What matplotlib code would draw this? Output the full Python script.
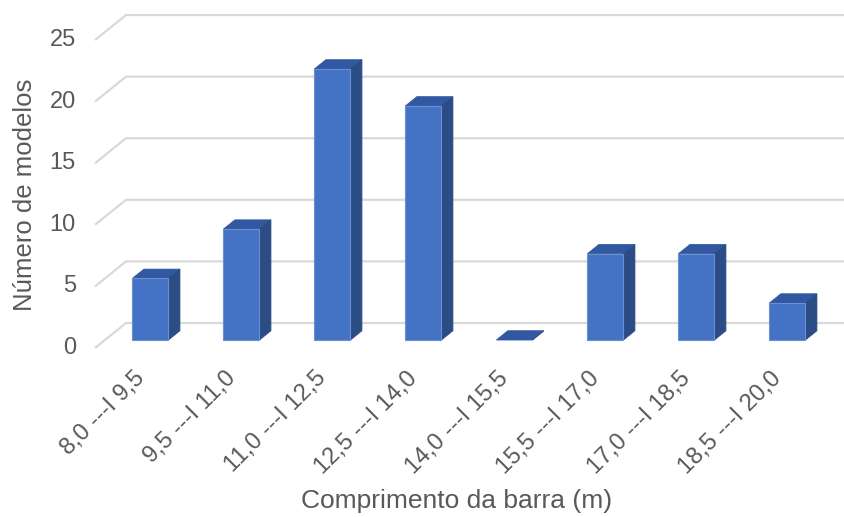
import matplotlib
matplotlib.use("Agg")
import matplotlib.pyplot as plt
from matplotlib.patches import Polygon

plt.rcParams["font.family"] = ["Liberation Sans", "DejaVu Sans"]

# Histogram data
categories = ["8,0 ---I 9,5", "9,5 ---I 11,0", "11,0 ---I 12,5", "12,5 ---I 14,0",
              "14,0 ---I 15,5", "15,5 ---I 17,0", "17,0 ---I 18,5", "18,5 ---I 20,0"]
counts = [5, 9, 22, 19, 0, 7, 7, 3]
y_ticks = [0, 5, 10, 15, 20, 25]
x_title = "Comprimento da barra (m)"
y_title = "Número de modelos"

# Oblique 3D projection parameters (data units)
DEPTH_X = 0.341      # horizontal shift from front plane to back wall (category units)
DEPTH_Y = 2.03       # vertical shift from front plane to back wall (value units)
F_FRONT = 0.32       # depth fraction of bar front face
F_BACK = 0.69        # depth fraction of bar back face
HALF_W = 0.198       # half width of bar front face

FRONT = "#4472C4"
SIDE = "#2C4C86"
TOP = "#3158A0"
EDGE = "#6C8FD2"
GRID = "#D9D9D9"
TEXT = "#595959"

fig = plt.figure(figsize=(8.44, 5.17), dpi=100)
ax = fig.add_axes([0, 0, 1, 1])
ax.set_xlim(-1.544, 7.731)
ax.set_ylim(-13.72, 28.25)
ax.axis("off")

# Gridlines: slanted floor edge + back-wall horizontal line
x_left = -0.5
x_right = 7.731
for v in y_ticks:
    ax.plot([x_left, x_left + DEPTH_X, x_right], [v, v + DEPTH_Y, v + DEPTH_Y],
            color=GRID, lw=1.6, solid_capstyle="butt", zorder=1)
    ax.text(x_left - 0.21, v, str(v), ha="right", va="center",
            fontsize=17, color=TEXT)

# 3D bars
for i, v in enumerate(counts):
    fx0 = i - HALF_W + F_FRONT * DEPTH_X
    fx1 = i + HALF_W + F_FRONT * DEPTH_X
    fy0 = F_FRONT * DEPTH_Y
    fy1 = v + F_FRONT * DEPTH_Y
    bx = (F_BACK - F_FRONT) * DEPTH_X
    by = (F_BACK - F_FRONT) * DEPTH_Y
    # top face
    ax.add_patch(Polygon([(fx0, fy1), (fx1, fy1), (fx1 + bx, fy1 + by), (fx0 + bx, fy1 + by)],
                         closed=True, facecolor=TOP, edgecolor=TOP, lw=0.6, zorder=3))
    # side face
    ax.add_patch(Polygon([(fx1, fy0), (fx1 + bx, fy0 + by), (fx1 + bx, fy1 + by), (fx1, fy1)],
                         closed=True, facecolor=SIDE, edgecolor=SIDE, lw=0.6, zorder=3))
    # front face
    if v > 0:
        ax.add_patch(Polygon([(fx0, fy0), (fx1, fy0), (fx1, fy1), (fx0, fy1)],
                             closed=True, facecolor=FRONT, edgecolor=EDGE, lw=0.8, zorder=4))

# Category labels
for i, lab in enumerate(categories):
    ax.text(i + 0.007, -2.19, lab, rotation=45, rotation_mode="anchor",
            ha="right", va="center", fontsize=17, color=TEXT)

# Axis titles
ax.text((457 - 140.5) / 91, (348 - 501) / 12.32, x_title, ha="center", va="center",
        fontsize=19, color=TEXT)
ax.text((25 - 140.5) / 91, (348 - 195) / 12.32, y_title, ha="center", va="center",
        rotation=90, fontsize=18.5, color=TEXT)

fig.savefig("out.png", dpi=100, facecolor="white")
